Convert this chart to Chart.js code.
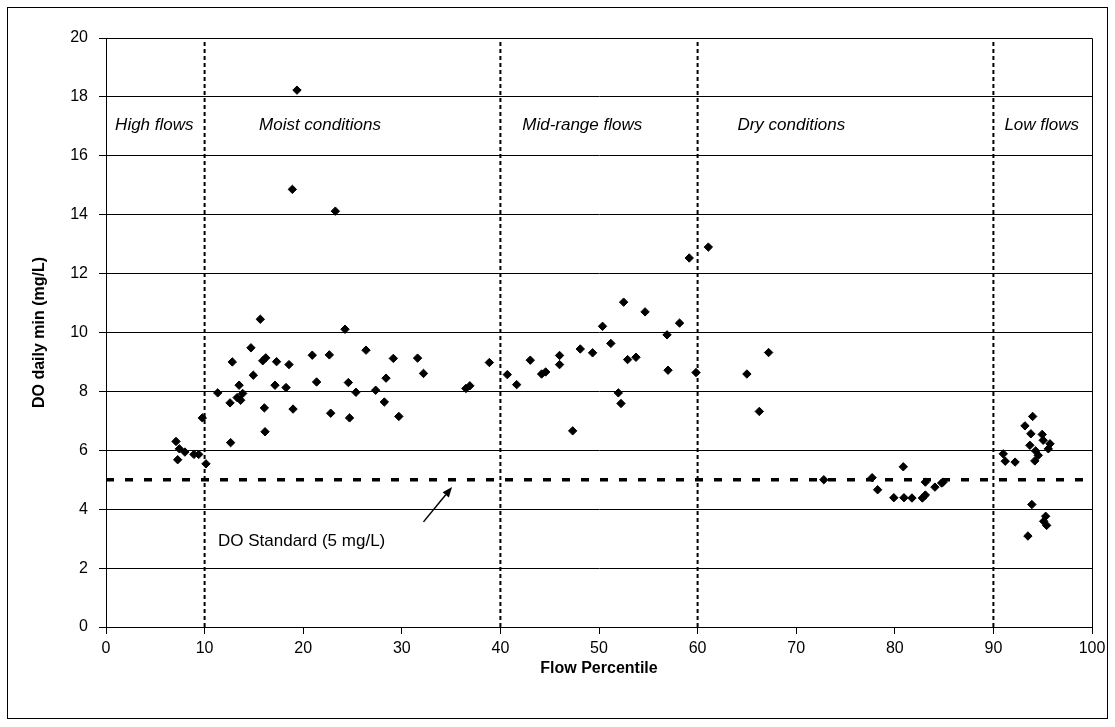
<!DOCTYPE html>
<html>
<head>
<meta charset="utf-8">
<title>DO daily min vs flow percentile</title>
<script src="https://cdn.jsdelivr.net/npm/chart.js@4.4.1/dist/chart.umd.min.js"></script>
<style>
  html, body { margin: 0; padding: 0; background: #fff; }
  #wrap { width: 1115px; height: 727px; position: relative; }
</style>
</head>
<body>
<div id="wrap"><canvas id="chart" width="1115" height="727"></canvas></div>
<script>
// flow percentile (x) and DO daily minimum in mg/L (y)
const flowPercentile = [
  7.1, 7.27, 7.44, 8.0, 8.92, 9.4, 9.77, 10.14,
  11.33, 12.64, 12.58, 12.81, 13.3, 13.5, 13.66, 13.86, 14.7, 14.94, 15.65, 15.9,
  16.2, 16.06, 16.13, 17.14, 17.3, 18.26, 18.56, 18.97, 19.37, 18.9, 23.26, 20.92,
  21.36, 22.65, 22.79, 24.24, 24.58, 24.7, 25.35, 26.37, 27.35, 28.23, 28.4, 29.14,
  29.7, 31.6, 32.2, 36.5, 36.9, 38.88,
  40.7, 41.65, 43.03, 44.18, 44.59, 46.0, 46.0, 47.33, 48.1, 49.35, 50.36, 51.2,
  51.96, 52.23, 52.5, 52.9, 53.75, 54.67, 56.9, 57.0, 58.17, 59.15, 59.84, 61.09,
  65.0, 66.26, 67.2, 72.8, 77.7, 78.26, 79.9, 80.86, 80.93, 81.74, 82.8, 83.1,
  83.1, 84.07, 84.75, 84.9,
  91.0, 91.2, 92.2, 93.2, 93.98, 93.8, 93.7, 94.28, 94.55, 94.2, 94.95, 95.05,
  95.74, 95.57, 93.9, 95.3, 95.1, 95.4, 93.5
];
const doDailyMin = [
  6.30, 5.68, 6.05, 5.94, 5.86, 5.86, 7.10, 5.54,
  7.95, 6.26, 7.61, 9.00, 7.79, 8.21, 7.70, 7.93, 9.48, 8.55, 10.45, 9.04,
  9.14, 7.44, 6.63, 8.21, 9.01, 8.13, 8.91, 7.40, 18.23, 14.86, 14.12, 9.23,
  8.32, 9.24, 7.26, 10.11, 8.30, 7.10, 7.97, 9.40, 8.04, 7.64, 8.45, 9.12,
  7.15, 9.13, 8.61, 8.10, 8.19, 8.98,
  8.57, 8.23, 9.06, 8.59, 8.66, 9.22, 8.91, 6.66, 9.44, 9.31, 10.21, 9.63,
  7.95, 7.59, 11.03, 9.08, 9.16, 10.70, 9.92, 8.72, 10.32, 12.53, 8.64, 12.90,
  8.59, 7.32, 9.32, 5.00, 5.07, 4.66, 4.39, 5.44, 4.39, 4.38, 4.38, 4.48,
  4.92, 4.75, 4.89, 4.92,
  5.88, 5.63, 5.60, 6.83, 7.15, 6.56, 6.17, 5.98, 5.83, 5.64, 6.54, 6.34,
  6.22, 6.05, 4.16, 3.76, 3.59, 3.45, 3.09
];

// flow regime boundaries and the DO standard
const regimeBounds = [10, 40, 60, 90];
const regimeNames = ['High flows', 'Moist conditions', 'Mid-range flows', 'Dry conditions', 'Low flows'];
const doStandard = 5;

const xTicks = [0, 10, 20, 30, 40, 50, 60, 70, 80, 90, 100];
const yTicks = [0, 2, 4, 6, 8, 10, 12, 14, 16, 18, 20];

const FONT = '"Liberation Sans", Arial, sans-serif';

// where the text boxes sit, in data units
const regimeLabelX = [4.9, 21.7, 48.3, 69.5, 94.9];
const regimeLabelY = 17.05;
const stdLabel = { x: 11.36, y: 2.9, tailX: 32.2, tailY: 3.57, tipX: 35.1, tipY: 4.75 };

const points = flowPercentile.map((x, i) => ({ x: x, y: doDailyMin[i] }));

const datasets = [{
  type: 'scatter',
  label: 'DO daily min',
  data: points,
  pointStyle: 'rectRot',
  pointRadius: 4.2,
  pointHoverRadius: 4.2,
  backgroundColor: '#000',
  borderColor: '#000',
  borderWidth: 1,
  order: 0
}, {
  type: 'line',
  label: 'DO Standard',
  data: [{ x: 0, y: doStandard }, { x: 100, y: doStandard }],
  borderColor: '#000',
  borderWidth: 3.5,
  borderDash: [8, 11],
  pointRadius: 0,
  fill: false,
  order: 1
}];

regimeBounds.forEach(b => {
  datasets.push({
    type: 'line',
    label: 'bound ' + b,
    data: [{ x: b, y: 0 }, { x: b, y: 20 }],
    borderColor: '#000',
    borderWidth: 2,
    borderDash: [4, 3],
    pointRadius: 0,
    fill: false,
    order: 2
  });
});

// white page, outer frame, plot frame, region text and arrow
const decorations = {
  id: 'decorations',
  beforeDraw(chart) {
    const ctx = chart.ctx;
    ctx.save();
    ctx.fillStyle = '#fff';
    ctx.fillRect(0, 0, chart.width, chart.height);
    ctx.strokeStyle = '#000';
    ctx.lineWidth = 1;
    ctx.strokeRect(7.5, 7.5, 1100, 711);
    ctx.restore();
  },
  afterDatasetsDraw(chart) {
    const ctx = chart.ctx;
    const xs = chart.scales.x, ys = chart.scales.y;
    const a = chart.chartArea;
    ctx.save();
    ctx.strokeStyle = '#000';
    ctx.lineWidth = 1;
    ctx.beginPath();
    ctx.moveTo(a.left, a.top + 0.5);
    ctx.lineTo(a.right + 0.5, a.top + 0.5);
    ctx.lineTo(a.right + 0.5, a.bottom);
    ctx.stroke();

    ctx.fillStyle = '#000';
    ctx.textBaseline = 'middle';
    ctx.textAlign = 'center';
    ctx.font = 'italic 17px ' + FONT;
    regimeNames.forEach((name, i) => {
      ctx.fillText(name, xs.getPixelForValue(regimeLabelX[i]), ys.getPixelForValue(regimeLabelY));
    });

    ctx.textAlign = 'left';
    ctx.font = '17px ' + FONT;
    ctx.fillText('DO Standard (5 mg/L)', xs.getPixelForValue(stdLabel.x), ys.getPixelForValue(stdLabel.y));

    // arrow
    const x0 = xs.getPixelForValue(stdLabel.tailX), y0 = ys.getPixelForValue(stdLabel.tailY);
    const x1 = xs.getPixelForValue(stdLabel.tipX), y1 = ys.getPixelForValue(stdLabel.tipY);
    const ang = Math.atan2(y1 - y0, x1 - x0);
    const hl = 10, hw = 4;
    const bx = x1 - hl * Math.cos(ang), by = y1 - hl * Math.sin(ang);
    ctx.lineWidth = 1.5;
    ctx.beginPath();
    ctx.moveTo(x0, y0);
    ctx.lineTo(bx, by);
    ctx.stroke();
    ctx.beginPath();
    ctx.moveTo(x1, y1);
    ctx.lineTo(bx + hw * Math.sin(ang), by - hw * Math.cos(ang));
    ctx.lineTo(bx - hw * Math.sin(ang), by + hw * Math.cos(ang));
    ctx.closePath();
    ctx.fill();
    ctx.restore();
  }
};

new Chart(document.getElementById('chart'), {
  data: { datasets: datasets },
  options: {
    responsive: false,
    animation: false,
    events: [],
    layout: { padding: { left: 22, right: 23, top: 38, bottom: 14 } },
    plugins: {
      legend: { display: false },
      tooltip: { enabled: false }
    },
    scales: {
      x: {
        type: 'linear',
        min: 0,
        max: 100,
        afterFit(scale) { scale.height = 727 - 14 - 627; },
        afterBuildTicks(scale) { scale.ticks = xTicks.map(v => ({ value: v })); },
        grid: { drawOnChartArea: false, drawTicks: true, tickLength: 7, color: '#000', lineWidth: 1 },
        border: { color: '#000', width: 1 },
        ticks: { color: '#000', padding: 5, font: { family: FONT, size: 16 } },
        title: {
          display: true,
          text: 'Flow Percentile',
          color: '#000',
          font: { family: FONT, size: 16, weight: 'bold' },
          padding: { top: 0, bottom: 35 }
        }
      },
      y: {
        type: 'linear',
        min: 0,
        max: 20,
        afterFit(scale) { scale.width = 106 - 22; },
        afterBuildTicks(scale) { scale.ticks = yTicks.map(v => ({ value: v })); },
        grid: { drawOnChartArea: true, drawTicks: true, tickLength: 7, color: '#000', lineWidth: 1 },
        border: { color: '#000', width: 1 },
        ticks: { color: '#000', padding: 11, font: { family: FONT, size: 16 } },
        title: {
          display: true,
          text: 'DO daily min (mg/L)',
          color: '#000',
          font: { family: FONT, size: 16, weight: 'bold' },
          padding: { top: 8, bottom: 0 }
        }
      }
    }
  },
  plugins: [decorations]
});
</script>
</body>
</html>
